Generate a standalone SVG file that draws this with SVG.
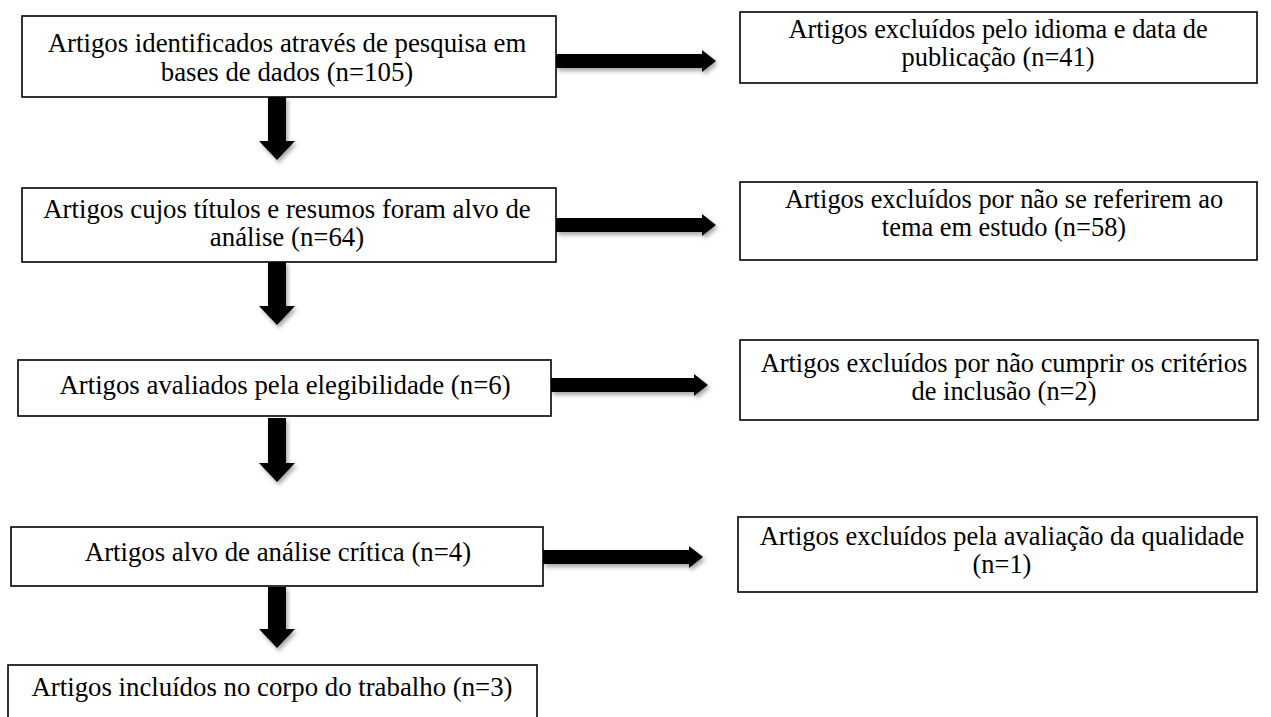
<svg xmlns="http://www.w3.org/2000/svg" width="1271" height="717" viewBox="0 0 1271 717">
<defs>
<filter id="sh" x="-20%" y="-20%" width="150%" height="150%">
<feDropShadow dx="2" dy="3" stdDeviation="2" flood-color="#000" flood-opacity="0.35"/>
</filter>
<style>
.box{fill:#fff;stroke:#000;stroke-width:1.6}
.t{font-size:26.8px;fill:#000;text-anchor:middle}
.r{font-size:26.4px}
.arr{fill:#000;filter:url(#sh)}
</style>
</defs>
<rect width="1271" height="717" fill="#fff"/>
<g id="connectors">
<path class="arr" d="M556,54 H702 V50 L716,61 L702,72 V68 H556 Z"/>
<path class="arr" d="M556,218 H702 V214 L716,225 L702,236 V232 H556 Z"/>
<path class="arr" d="M551,378 H694 V374 L708,385 L694,396 V392 H551 Z"/>
<path class="arr" d="M543,550 H689 V546 L703,557 L689,568 V564 H543 Z"/>
<path class="arr" d="M268,97 H286 V141 H295 L277,160 L259,141 H268 Z"/>
<path class="arr" d="M268,262 H286 V306 H295 L277,325 L259,306 H268 Z"/>
<path class="arr" d="M268,418 H286 V463 H295 L277,482 L259,463 H268 Z"/>
<path class="arr" d="M268,587 H286 V629 H295 L277,648 L259,629 H268 Z"/>
</g>
<g font-family="Liberation Serif, DejaVu Serif, serif">
<g id="n1"><rect class="box" x="22" y="16" width="534" height="81"/>
<text class="t" x="287" y="52">Artigos identificados através de pesquisa em</text>
<text class="t" x="287" y="81">bases de dados (n=105)</text></g>
<g id="n2"><rect class="box" x="22" y="188" width="534" height="74"/>
<text class="t" x="287" y="218">Artigos cujos títulos e resumos foram alvo de</text>
<text class="t" x="287" y="246">análise (n=64)</text></g>
<g id="n3"><rect class="box" x="18" y="360" width="533" height="56"/>
<text class="t" x="285" y="394">Artigos avaliados pela elegibilidade (n=6)</text></g>
<g id="n4"><rect class="box" x="11" y="527" width="532" height="59"/>
<text class="t" x="278" y="561">Artigos alvo de análise crítica (n=4)</text></g>
<g id="n5"><rect class="box" x="8" y="665" width="529" height="60"/>
<text class="t" x="272" y="696">Artigos incluídos no corpo do trabalho (n=3)</text></g>
<g id="r1"><rect class="box" x="740" y="12" width="517" height="71"/>
<text class="t r" x="998" y="38">Artigos excluídos pelo idioma e data de</text>
<text class="t r" x="998" y="66">publicação (n=41)</text></g>
<g id="r2"><rect class="box" x="740" y="182" width="517" height="78"/>
<text class="t r" x="1004" y="208">Artigos excluídos por não se referirem ao</text>
<text class="t r" x="1004" y="236">tema em estudo (n=58)</text></g>
<g id="r3"><rect class="box" x="740" y="340" width="518" height="80"/>
<text class="t r" x="1004" y="372">Artigos excluídos por não cumprir os critérios</text>
<text class="t r" x="1004" y="400">de inclusão (n=2)</text></g>
<g id="r4"><rect class="box" x="738" y="517" width="519" height="75"/>
<text class="t r" x="1002" y="545">Artigos excluídos pela avaliação da qualidade</text>
<text class="t r" x="1002" y="573">(n=1)</text></g>
</g>
</svg>
